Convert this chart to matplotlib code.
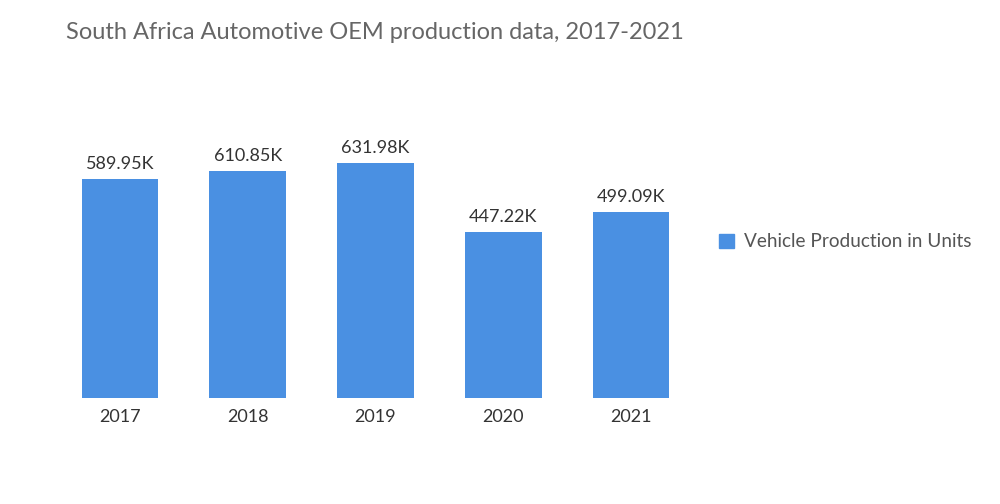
import matplotlib
matplotlib.use("Agg")
import matplotlib.pyplot as plt
from matplotlib.patches import Patch

years = ["2017", "2018", "2019", "2020", "2021"]
production_k = [589.95, 610.85, 631.98, 447.22, 499.09]
value_labels = ["589.95K", "610.85K", "631.98K", "447.22K", "499.09K"]
series_name = "Vehicle Production in Units"
title = "South Africa Automotive OEM production data, 2017-2021"

plt.rcParams['font.family'] = ['Lato', 'DejaVu Sans']
bar_color = "#4A90E2"

fig = plt.figure(figsize=(10, 5.04), dpi=100)
ax = fig.add_axes([0.056, 0.2103, 0.639, 0.5903])
x = range(len(years))
bars = ax.bar(x, production_k, width=0.6, color=bar_color)
ax.set_ylim(0, 800)
ax.set_xlim(-0.5, len(years) - 0.5)
for b, lab in zip(bars, value_labels):
    ax.annotate(lab, (b.get_x() + b.get_width() / 2, b.get_height()),
                xytext=(0, 5), textcoords="offset points", ha="center", va="bottom",
                fontsize=13, color="#333333")
ax.set_xticks(list(x))
ax.set_xticklabels(years, fontsize=13, color="#333333")
ax.tick_params(axis="x", length=0, pad=8)
ax.set_yticks([])
for s in ax.spines.values():
    s.set_visible(False)

fig.text(0.066, 0.935, title, fontsize=17, color="#666666", ha="left", va="center")
fig.legend(handles=[Patch(color=bar_color, label=series_name)],
           loc="center left", bbox_to_anchor=(0.702, 0.52), frameon=False,
           fontsize=13.7, handlelength=0.8, handleheight=0.8, handletextpad=0.5,
           labelcolor="#555555")
fig.savefig("out.png", dpi=100)
